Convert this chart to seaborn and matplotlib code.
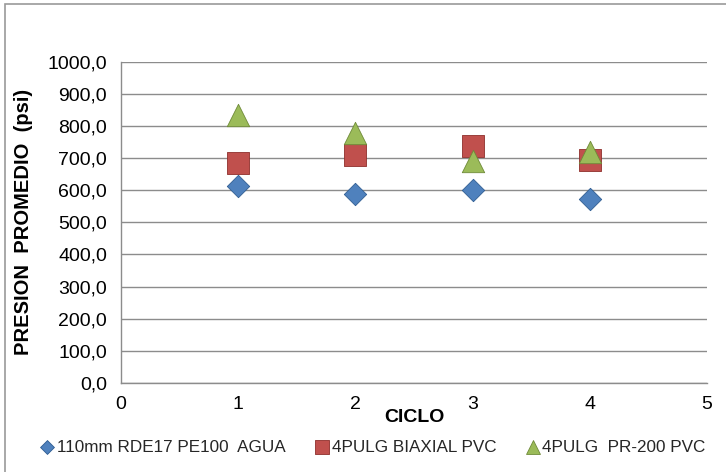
import matplotlib
matplotlib.use("Agg")
import matplotlib.pyplot as plt
from matplotlib.patches import Rectangle
from matplotlib.ticker import FuncFormatter, MultipleLocator
import seaborn as sns
import pandas as pd

# Average pressure per cycle for each pipe type
ciclos = [1, 2, 3, 4]
pe100_agua = [614, 587, 600, 574]
biaxial_pvc = [684, 709, 737, 696]
pr200_pvc = [835, 780, 690, 718]

series_names = ["110mm RDE17 PE100  AGUA", "4PULG BIAXIAL PVC", "4PULG  PR-200 PVC"]
series_values = [pe100_agua, biaxial_pvc, pr200_pvc]
colors = ["#4F81BD", "#C0504D", "#9BBB59"]
edges = ["#2F5D92", "#8E2F2C", "#6E8A38"]
markers = ["D", "s", "^"]
marker_sizes = [130, 230, 260]

df = pd.concat(
    [pd.DataFrame({"CICLO": ciclos, "PRESION": vals, "serie": name})
     for name, vals in zip(series_names, series_values)],
    ignore_index=True,
)

sns.set_theme(style="white")
plt.rcParams["font.family"] = ["Liberation Sans", "DejaVu Sans"]

fig = plt.figure(figsize=(7.26, 4.72), dpi=100)
ax = fig.add_axes([0.1667, 0.189, 0.8073, 0.6796])

for name, color, edge, mk, sz in zip(series_names, colors, edges, markers, marker_sizes):
    sns.scatterplot(
        data=df[df["serie"] == name], x="CICLO", y="PRESION",
        marker=mk, s=sz, color=color, edgecolor=edge, linewidth=0.6,
        label=name, ax=ax, zorder=3,
    )

ax.set_xlim(0, 5)
ax.set_ylim(0, 1000)
ax.xaxis.set_major_locator(MultipleLocator(1))
ax.yaxis.set_major_locator(MultipleLocator(100))
ax.yaxis.set_major_formatter(FuncFormatter(lambda v, p: f"{v:.1f}".replace(".", ",")))

ax.grid(axis="y", color="#8C8C8C", linewidth=1.0)
ax.set_axisbelow(True)
for side in ["top", "right"]:
    ax.spines[side].set_visible(False)
for side in ["left", "bottom"]:
    ax.spines[side].set_color("#8C8C8C")
    ax.spines[side].set_linewidth(1.0)

ax.tick_params(axis="both", direction="out", length=5.5, width=1.0, color="#8C8C8C",
               labelsize=14, labelcolor="black", pad=4.5)
ax.tick_params(axis="x", pad=4)

ax.set_xlabel("CICLO", fontsize=14, fontweight="bold", color="black", labelpad=-3)
ax.set_ylabel("PRESION  PROMEDIO  (psi)", fontsize=14.5, fontweight="bold",
              color="black")
ax.yaxis.set_label_coords(-0.150, 0.5)

ax.legend(
    loc="center left", bbox_to_anchor=(38 / 726, 0.052), bbox_transform=fig.transFigure,
    ncol=3, frameon=False, fontsize=12.3, handletextpad=0.0, handlelength=1.1,
    columnspacing=1.6, markerscale=0.62, borderaxespad=0, borderpad=0,
)

# outer chart frame
fig.patches.append(Rectangle((5 / 726, -0.02), 1.1, 1 - 4 / 472 + 0.02,
                             transform=fig.transFigure, fill=False,
                             edgecolor="#9A9A9A", linewidth=1.2, zorder=0))

fig.savefig("out.png", dpi=100)
